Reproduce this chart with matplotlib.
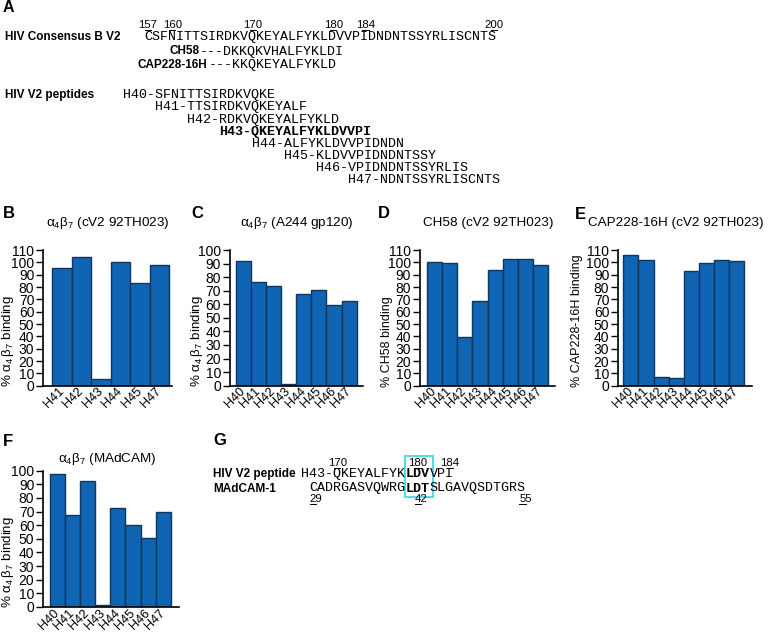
import matplotlib
matplotlib.use('Agg')
import matplotlib.pyplot as plt
from matplotlib.patches import Rectangle
from matplotlib.transforms import ScaledTranslation

plt.rcParams['font.family'] = ['Liberation Sans', 'DejaVu Sans']
plt.rcParams['mathtext.fontset'] = 'custom'
plt.rcParams['mathtext.rm'] = 'Liberation Sans'
plt.rcParams['mathtext.it'] = 'Liberation Sans'

# ---- data ----
consensus = 'CSFNITTSIRDKVQKEYALFYKLDVVPIDNDNTSSYRLISCNTS'
first_res = 157
res_marks = [157, 160, 170, 180, 184, 200]
ch58_seq = 'DKKQKVHALFYKLDI'
ch58_first = 167
cap_seq = 'KKQKEYALFYKLD'
cap_first = 168

pep_names = ['H40', 'H41', 'H42', 'H43', 'H44', 'H45', 'H46', 'H47']
pep_seqs = ['SFNITTSIRDKVQKE', 'TTSIRDKVQKEYALF', 'RDKVQKEYALFYKLD',
            'QKEYALFYKLDVVPI', 'ALFYKLDVVPIDNDN', 'KLDVVPIDNDNTSSY',
            'VPIDNDNTSSYRLIS', 'NDNTSSYRLISCNTS']

madcam_seq = 'CADRGASVQWRGLDTSLGAVQSDTGRS'
madcam_marks = [29, 42, 55]
g_marks = [170, 180, 184]

b_labels = ['H41', 'H42', 'H43', 'H44', 'H45', 'H47']
b_vals = [95.1, 104.6, 5.4, 100.5, 83.2, 98.1]
c_vals = [91.6, 76.2, 73.7, 1.2, 67.6, 70.3, 59.7, 62.7]
d_vals = [100.5, 99.2, 39.7, 68.4, 93.8, 102.4, 103.0, 97.6]
e_vals = [106.0, 101.6, 7.0, 5.9, 93.2, 99.7, 102.2, 100.8]
f_vals = [97.3, 67.5, 92.4, 1.2, 72.9, 59.9, 50.4, 69.7]

# ---- figure in pixel units ----
W, H = 769, 632
fig = plt.figure(figsize=(W / 100, H / 100), dpi=100)
ov = fig.add_axes([0, 0, 1, 1])
ov.set_xlim(0, W)
ov.set_ylim(H, 0)
ov.axis('off')

MONO = 'Liberation Mono'
seq_size = 9.66
cw = 8.05           # px per residue
num_size = 8.2
dw = 0.556 * num_size * 100 / 72
bar_col = '#0f64b4'
bar_edge = '#12355c'


def num_label(xc, yb, n):
    s = str(n)
    xt = xc if len(s) == 3 else xc + dw / 2
    ov.text(xt, yb, s, ha='center', va='baseline', fontsize=num_size)
    ov.plot([xc - dw / 2, xc + dw / 2], [yb + 1.5, yb + 1.5], color='k', lw=0.7)


def seq_text(x, yb, s, bold=False):
    ov.text(x, yb, s, ha='left', va='baseline', family=MONO, fontsize=seq_size,
            weight='bold' if bold else 'normal')


# ---- panel A ----
x0 = 144
ov.text(3, 11.5, 'A', weight='bold', fontsize=11.5, va='baseline')
for n in res_marks:
    num_label(x0 + (n - first_res + 0.5) * cw, 28.3, n)
ov.text(5, 40, 'HIV Consensus B V2', weight='bold', fontsize=8.5, va='baseline')
seq_text(x0, 40, consensus)

col = ch58_first - first_res
ov.text(x0 + (col - 3) * cw - 1, 54.5, 'CH58', weight='bold', fontsize=8.5,
        ha='right', va='baseline')
seq_text(x0 + (col - 3) * cw, 54.5, '---' + ch58_seq)
col = cap_first - first_res
ov.text(x0 + (col - 3) * cw - 1, 68.3, 'CAP228-16H', weight='bold', fontsize=8.5,
        ha='right', va='baseline')
seq_text(x0 + (col - 3) * cw, 68.3, '---' + cap_seq)

ov.text(5, 98.3, 'HIV V2 peptides', weight='bold', fontsize=8.5, va='baseline')
for i, (nm, sq) in enumerate(zip(pep_names, pep_seqs)):
    col = consensus.find(sq) - 4
    seq_text(x0 + col * cw + 3, 98.3 + i * 12.15, nm + '-' + sq, bold=(nm == 'H43'))

# ---- bar panels ----
lab_ab = r'% $\alpha_4\,\beta_7$ binding'
panels = [
    ('B', r'$\alpha_4\beta_7$ (cV2 92TH023)', lab_ab, b_labels, b_vals, 110,
     (43.3, 172), (250, 385.7), (-0.95, 5.65), (3, 218), 108, 226, 8),
    ('C', r'$\alpha_4\beta_7$ (A244 gp120)', lab_ab, pep_names, c_vals, 100,
     (230, 363), (250, 385.7), (-0.88, 7.92), (191, 218), 297, 226, 197),
    ('D', 'CH58 (cV2 92TH023)', '% CH58 binding', pep_names, d_vals, 110,
     (420, 555), (250, 385.7), (-0.94, 7.94), (378, 218), 488, 226, 387),
    ('E', 'CAP228-16H (cV2 92TH023)', '% CAP228-16H binding', pep_names, e_vals, 110,
     (618.3, 751.7), (250, 385.7), (-0.83, 7.99), (575, 219), 676, 226, 577),
    ('F', r'$\alpha_4\beta_7$ (MAdCAM)', lab_ab, pep_names, f_vals, 100,
     (43.3, 179), (470.7, 607), (-0.94, 8.05), (3, 446), 107, 462, 8),
]

shift = ScaledTranslation(5 / 100, 0, fig.dpi_scale_trans)
for (letter, title, ylab, labels, vals, ymax, (xa, xb), (ya, yb), xl,
     (lx, ly), tx, ty, ylx) in panels:
    ax = fig.add_axes([xa / W, 1 - yb / H, (xb - xa) / W, (yb - ya) / H])
    pos = list(range(len(vals)))
    ax.bar(pos, vals, width=1.0, color=bar_col, edgecolor=bar_edge, linewidth=1.0)
    ax.set_xlim(*xl)
    ax.set_ylim(0, ymax)
    ax.set_yticks(range(0, ymax + 1, 10))
    ax.set_xticks(pos)
    ax.set_xticklabels(labels, rotation=45, ha='right', va='center',
                       rotation_mode='anchor', fontsize=9.2)
    for t in ax.get_xticklabels():
        t.set_transform(t.get_transform() + shift)
    for sp in ['top', 'right']:
        ax.spines[sp].set_visible(False)
    for sp in ['left', 'bottom']:
        ax.spines[sp].set_linewidth(1.2)
    ax.tick_params(axis='y', length=5, width=1, pad=1.5, labelsize=10)
    ax.tick_params(axis='x', length=0, pad=3)
    fs = 9.6 if ylab == lab_ab else 9
    ax.set_ylabel(ylab, fontsize=fs, ha='left', va='center', rotation_mode='anchor')
    ax.yaxis.set_label_coords((ylx - xa) / (xb - xa), -1.5 / (yb - ya))
    ov.text(lx, ly, letter, weight='bold', fontsize=12, va='baseline')
    ov.text(tx, ty, title, ha='center', va='baseline', fontsize=9.7)

# ---- panel G ----
gx = 301
ov.text(213, 445, 'G', weight='bold', fontsize=12, va='baseline')
h43 = 'H43-' + pep_seqs[3]
motif = h43.find('LDV')
for n in g_marks:
    num_label(gx + (n - 166 + 0.5) * cw, 466, n)
ov.text(213, 477, 'HIV V2 peptide', weight='bold', fontsize=8.5, va='baseline')
seq_text(gx, 477, h43[:motif])
seq_text(gx + motif * cw, 477, h43[motif:motif + 3], bold=True)
seq_text(gx + (motif + 3) * cw, 477, h43[motif + 3:])

ov.text(213, 491.5, 'MAdCAM-1', weight='bold', fontsize=8.5, va='baseline')
m_off = motif - madcam_seq.find('LDT')
mm = madcam_seq.find('LDT')
seq_text(gx + m_off * cw, 491.5, madcam_seq[:mm])
seq_text(gx + (m_off + mm) * cw, 491.5, madcam_seq[mm:mm + 3], bold=True)
seq_text(gx + (m_off + mm + 3) * cw, 491.5, madcam_seq[mm + 3:])
for n in madcam_marks:
    num_label(gx + (m_off + n - 29 + 0.5) * cw, 502.5, n)

ov.add_patch(Rectangle((gx + motif * cw - 1, 456), 3 * cw + 4, 40.5, fill=False,
                       edgecolor='#55dde3', lw=1.5))

fig.savefig('out.png', dpi=100)
